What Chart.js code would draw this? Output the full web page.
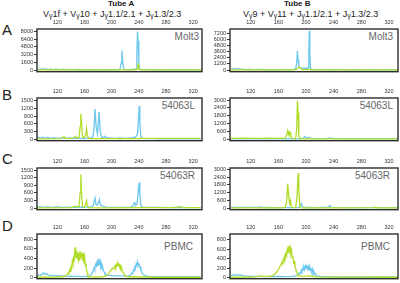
<!DOCTYPE html>
<html><head><meta charset="utf-8">
<script src="https://cdn.jsdelivr.net/npm/chart.js@4/dist/chart.umd.min.js"></script>
<style>
body{margin:0;width:400px;height:283px;background:#fff;position:relative;overflow:hidden;font-family:"Liberation Sans",Arial,sans-serif;}
canvas{position:absolute;}
.t{position:absolute;white-space:nowrap;line-height:1;}
.row{font-size:15px;color:#222;}
.smp{font-size:10px;color:#666;text-align:right;}
.tube{font-size:8px;font-weight:bold;color:#222;}
.mix{font-size:9px;color:#222;}
.mix sub{font-size:7px;vertical-align:-1px;}
</style></head><body>
<div class="t tube" style="left:108px;top:0px">Tube A</div>
<div class="t mix" style="left:43px;top:10px">V<sub>γ</sub>1f + V<sub>γ</sub>10 + J<sub>γ</sub>1.1/2.1 + J<sub>γ</sub>1.3/2.3</div>
<div class="t tube" style="left:284px;top:0px">Tube B</div>
<div class="t mix" style="left:243px;top:10px">V<sub>γ</sub>9 + V<sub>γ</sub>11 + J<sub>γ</sub>1.1/2.1 + J<sub>γ</sub>1.3/2.3</div>
<div class="t row" style="left:2px;top:22px">A</div>
<div class="t row" style="left:2px;top:87px">B</div>
<div class="t row" style="left:2px;top:151px">C</div>
<div class="t row" style="left:2px;top:218px">D</div>
<div class="t smp" style="right:201px;top:32px">Molt3</div>
<div class="t smp" style="right:7px;top:32px">Molt3</div>
<div class="t smp" style="right:205px;top:101px">54063L</div>
<div class="t smp" style="right:7px;top:101px">54063L</div>
<div class="t smp" style="right:205px;top:171px">54063R</div>
<div class="t smp" style="right:10px;top:171px">54063R</div>
<div class="t smp" style="right:207px;top:242px">PBMC</div>
<div class="t smp" style="right:10px;top:242px">PBMC</div>
<script>
// ---- data: [fragment size (bp), signal (RFU)] ----
const sizeTicks = [120, 160, 200, 240, 280, 320];
const ticksTubeA_A = [0, 1600, 3200, 4800, 6400, 8000];
const ticksTubeB_A = [0, 1200, 2400, 3600, 4800, 6000, 7200];
const ticksTubeA_BC = [0, 300, 600, 900, 1200, 1500];
const ticksTubeB_BC = [0, 600, 1200, 1800, 2400, 3000];
const ticksD = [0, 200, 400, 600, 800];

const molt3A_blue = [[90,80],[93,200],[95,120],[98,260],[100,150],[103,220],[106,100],[110,180],[114,90],[118,160],[122,80],[128,140],[134,70],[140,120],[146,60],[152,110],[158,50],[164,100],[170,60],[176,90],[182,50],[188,80],[194,60],[200,90],[206,60],[212,100],[214,1500],[215,4100],[216.5,1200],[218,150],[222,100],[226,90],[230,110],[234,120],[236,300],[237,2500],[238,8000],[239,6000],[240,1500],[241,200],[244,100],[250,70],[256,90],[262,60],[270,80],[278,50],[286,70],[294,50],[302,60],[310,40],[318,60],[326,40],[333,50]];
const molt3A_green = [[90,10],[200,10],[236,20],[237.5,300],[238.5,1200],[239.5,1000],[240.5,200],[242,10],[333,10]];

const molt3B_blue = [[91,100],[95,250],[98,150],[101,300],[104,120],[108,180],[112,80],[118,120],[126,60],[134,100],[142,50],[150,80],[158,50],[166,70],[172,60],[178,80],[182,100],[185,200],[186.5,1500],[187.5,3800],[188.5,2000],[189.5,600],[192,400],[195,300],[198,350],[201,300],[203,500],[204,4000],[204.8,7800],[205.5,3000],[206.5,300],[208,100],[214,80],[222,60],[230,70],[240,50],[250,60],[262,40],[274,60],[286,40],[298,50],[310,40],[322,50],[334,40]];
const molt3B_green = [[91,10],[184,10],[187,200],[189,500],[190.5,600],[192,300],[195,100],[198,80],[203,100],[205,150],[206.5,20],[210,10],[334,10]];

const p54063L_A_blue = [[89,30],[92,60],[95,40],[98,70],[102,40],[106,60],[110,30],[115,50],[120,30],[126,45],[132,30],[138,40],[144,25],[150,35],[156,20],[162,30],[168,40],[172,80],[174,400],[175.5,1180],[177,500],[179,200],[180.5,700],[181.5,1070],[183,300],[185,80],[188,60],[190,110],[192,50],[198,40],[205,30],[212,40],[220,30],[228,40],[234,60],[236,110],[238,200],[239.5,800],[240.5,1290],[241.5,600],[243,80],[246,30],[252,15],[260,15],[270,10],[290,10],[310,10],[331,10]];
const p54063L_A_green = [[89,10],[125,20],[130,100],[132,30],[140,20],[145,60],[147,110],[149,40],[152,60],[153.5,500],[154.5,990],[155.5,700],[157,80],[160,60],[162,200],[163,410],[164,150],[166,20],[175,15],[200,15],[240,20],[250,25],[270,25],[290,25],[310,25],[331,25]];

const p54063L_B_blue = [[91,20],[130,20],[170,15],[190,20],[196,60],[198.5,210],[200,80],[202,60],[204,150],[205.5,60],[210,40],[220,30],[230,40],[235,90],[237,40],[250,30],[270,30],[290,30],[310,25],[334,25]];
const p54063L_B_green = [[91,50],[110,60],[130,50],[150,60],[165,50],[170,80],[172,300],[173.5,650],[175,300],[176,550],[177,500],[178,150],[180,40],[185,30],[186.5,800],[187.5,2950],[188.5,2000],[189.5,300],[191,20],[200,10],[334,10]];

const p54063R_A_blue = [[89,40],[95,60],[100,30],[106,50],[112,30],[120,50],[128,30],[136,45],[144,30],[150,40],[158,30],[166,40],[170,50],[173,100],[174.5,300],[175.5,400],[177,150],[179,120],[181,250],[182,340],[183.5,120],[186,100],[188,60],[192,40],[200,30],[210,35],[220,30],[228,40],[231,80],[233,200],[234,245],[235,100],[237,150],[239,600],[240.3,1010],[241.5,500],[243,100],[246,40],[256,30],[270,30],[285,25],[300,30],[315,25],[331,25]];
const p54063R_A_green = [[89,10],[140,20],[145,60],[147,80],[149,40],[152,60],[153.5,600],[154.5,1330],[155.5,700],[157,60],[160,40],[162,200],[163,300],[164,100],[166,20],[190,15],[240,20],[290,20],[300,50],[302,70],[304,20],[331,20]];

const p54063R_B_blue = [[91,40],[110,50],[130,50],[133,100],[136,40],[160,30],[180,30],[190,40],[192,200],[193.4,360],[195,100],[198,40],[215,30],[232,60],[234.5,190],[236,50],[260,30],[300,30],[334,30]];
const p54063R_B_green = [[91,10],[165,15],[170,60],[172,500],[173.5,1900],[175,900],[176,400],[177,600],[178,200],[180,30],[185,50],[187,900],[188.5,2700],[189.5,1500],[191,100],[193,20],[250,15],[298,30],[301,60],[304,20],[334,15]];

const pbmcA_blue = [[89,40],[92,60],[95,50],[98,80],[100,100],[102,70],[104,90],[106,60],[110,50],[115,40],[120,45],[125,35],[130,40],[135,30],[140,35],[145,30],[150,30],[155,25],[160,30],[165,30],[168,40],[170,70],[172,120],[174,200],[175,160],[176,260],[177,300],[178,220],[179,330],[180,260],[181,390],[182,300],[183,350],[184,220],[185,270],[186,180],[187,200],[188,140],[189,120],[190,80],[192,60],[195,50],[200,45],[205,40],[210,40],[215,40],[220,35],[225,40],[228,60],[230,100],[231,90],[232,160],[233,140],[234,220],[235,200],[236,280],[237,250],[238,330],[239,260],[240,300],[241,220],[242,230],[243,150],[244,140],[245,90],[247,60],[250,40],[255,30],[260,25],[270,25],[280,20],[290,20],[300,20],[310,20],[320,20],[331,20]];
const pbmcA_green = [[89,10],[120,15],[128,20],[132,40],[134,60],[136,100],[137,80],[138,160],[139,130],[140,220],[141,200],[142,340],[143,280],[144,420],[145,380],[146,630],[147,420],[148,560],[149,400],[150,520],[151,380],[152,480],[153,350],[154,540],[155,420],[156,500],[157,360],[158,520],[159,300],[160,480],[161,250],[162,300],[163,150],[164,100],[165,40],[167,20],[175,15],[185,20],[190,30],[193,50],[195,80],[197,120],[199,150],[201,200],[203,180],[205,250],[206,220],[207,280],[208,240],[209,300],[210,260],[211,280],[212,220],[213,240],[214,170],[215,180],[216,120],[217,110],[219,60],[221,30],[225,20],[235,20],[245,15],[260,10],[331,10]];

const pbmcB_blue = [[91,40],[95,60],[98,50],[100,70],[103,50],[106,60],[110,40],[120,30],[130,30],[140,25],[150,25],[160,30],[170,25],[180,30],[185,40],[188,60],[190,100],[192,80],[193,150],[194,120],[195,200],[196,160],[197,230],[198,180],[199,250],[200,200],[201,270],[202,190],[203,230],[204,150],[205,240],[206,160],[207,210],[208,120],[209,180],[210,90],[211,140],[212,70],[213,90],[215,40],[220,30],[230,25],[240,20],[260,20],[280,20],[300,20],[320,20],[334,20]];
const pbmcB_green = [[91,10],[120,15],[130,25],[135,40],[138,30],[145,30],[150,40],[153,60],[155,80],[157,110],[159,150],[161,200],[163,260],[165,320],[166,290],[167,380],[168,340],[169,450],[170,400],[171,520],[172,480],[173,600],[174,540],[175,670],[176,560],[177,640],[178,500],[179,560],[180,420],[181,450],[182,320],[183,340],[184,220],[185,200],[186,130],[187,100],[188,60],[190,40],[195,30],[200,30],[205,40],[210,30],[215,20],[230,15],[334,10]];

// ---- layout ----
const BLUE = '#6ec8ee', GREEN = '#b2dc2a';
const panels = [
  {col:0, top:29,  h:45, blue:molt3A_blue, green:molt3A_green, ticks:ticksTubeA_A, min:-350, max:8530},
  {col:1, top:29,  h:45, blue:molt3B_blue, green:molt3B_green, ticks:ticksTubeB_A, min:-335, max:8130},
  {col:0, top:98,  h:45, blue:p54063L_A_blue, green:p54063L_A_green, ticks:ticksTubeA_BC, min:-65, max:1608},
  {col:1, top:98,  h:45, blue:p54063L_B_blue, green:p54063L_B_green, ticks:ticksTubeB_BC, min:-130, max:3160},
  {col:0, top:168, h:44, blue:p54063R_A_blue, green:p54063R_A_green, ticks:ticksTubeA_BC, min:-60, max:1584},
  {col:1, top:168, h:44, blue:p54063R_B_blue, green:p54063R_B_green, ticks:ticksTubeB_BC, min:-130, max:3120},
  {col:0, top:234, h:47, blue:pbmcA_blue, green:pbmcA_green, ticks:ticksD, min:-20, max:905},
  {col:1, top:234, h:47, blue:pbmcB_blue, green:pbmcB_green, ticks:ticksD, min:-20, max:920},
];
const AXH = 12, AXW = 37;
const boxPlugin = {
  id:'box',
  afterDraw(c){
    const a=c.chartArea, x=c.ctx;
    x.save(); x.strokeStyle='#2e2e2e'; x.lineWidth=1.4;
    x.strokeRect(a.left, a.top, a.right-a.left, a.bottom-a.top);
    x.restore();
  }
};
const toPts = arr => arr.map(p => ({x:p[0], y:p[1]}));
const plain = v => String(v);
panels.forEach(p => {
  const cv = document.createElement('canvas');
  const left = p.col===0 ? 0 : 193;
  const w = p.col===0 ? 204 : 207;
  const hh = AXH + p.h + 2;
  cv.width = w; cv.height = hh;
  cv.style.left = left+'px'; cv.style.top = (p.top-AXH)+'px';
  cv.style.width = w+'px'; cv.style.height = hh+'px';
  document.body.appendChild(cv);
  new Chart(cv, {
    type:'line',
    data:{datasets:[
      {data:toPts(p.green), borderColor:GREEN, borderWidth:1.3, pointRadius:0, tension:0, fill:false},
      {data:toPts(p.blue), borderColor:BLUE, borderWidth:1.3, pointRadius:0, tension:0, fill:false}
    ]},
    options:{
      responsive:false, animation:false, devicePixelRatio:1,
      layout:{padding:{left:0,right:2,top:0,bottom:2}},
      plugins:{legend:{display:false}, tooltip:{enabled:false}},
      scales:{
        x:{type:'linear', position:'top', min:90, max:333,
           afterBuildTicks:s=>{s.ticks = sizeTicks.map(v=>({value:v}));},
           afterFit:s=>{s.height = AXH;},
           grid:{display:false, drawTicks:false}, border:{display:false},
           ticks:{font:{size:5.5, family:'Liberation Sans'}, color:'#333', padding:3, maxRotation:0, autoSkip:false, callback:plain}},
        y:{type:'linear', min:p.min, max:p.max,
           afterBuildTicks:s=>{s.ticks = p.ticks.map(v=>({value:v}));},
           afterFit:s=>{s.width = AXW;},
           grid:{drawOnChartArea:false, drawTicks:true, tickLength:3, color:'#333'}, border:{display:false},
           ticks:{font:{size:5.5, family:'Liberation Sans'}, color:'#333', padding:1, autoSkip:false, callback:plain}}
      }
    },
    plugins:[boxPlugin]
  });
});
</script>
</body></html>
